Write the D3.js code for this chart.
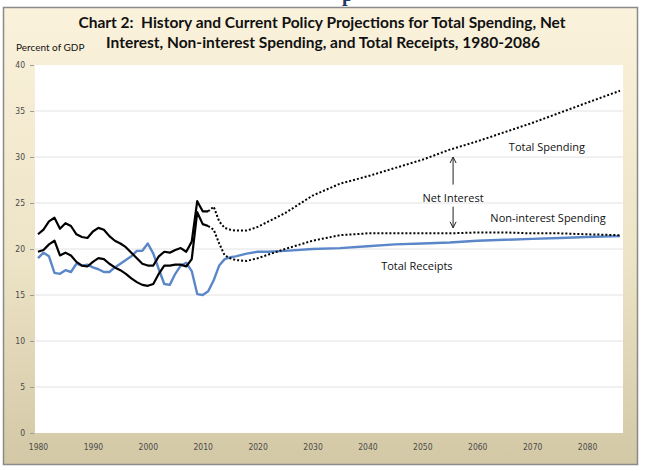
<!doctype html>
<html>
  <head>
    <meta charset="utf-8">
    <title>Chart 2</title>
    <style>
      body { margin: 0; background: #fff; }
      svg { display: block; }
      .tick-label { font-family: "DejaVu Sans Condensed", "DejaVu Sans", sans-serif; font-size: 8.5px; fill: #4a4a4a; }
      .note { font-family: "Open Sans", sans-serif; font-size: 11px; fill: #111; }
    </style>
  </head>
  <body>
  <script src="https://d3js.org/d3.v7.min.js" charset="utf-8"></script>
  <script>

    // history, 1980-2011
    var histYears = d3.range(1980, 2012);
    var spendingHist = [21.6, 22.1, 23.0, 23.4, 22.2, 22.8, 22.5, 21.6, 21.3, 21.2,
                        21.9, 22.3, 22.1, 21.4, 20.9, 20.6, 20.2, 19.6, 19.0, 18.4,
                        18.2, 18.2, 19.2, 19.7, 19.6, 19.9, 20.1, 19.7, 20.8, 25.2,
                        24.1, 24.1];
    var nonInterestHist = [19.7, 19.9, 20.5, 20.9, 19.3, 19.6, 19.3, 18.6, 18.2, 18.1,
                           18.6, 19.0, 18.9, 18.4, 18.0, 17.7, 17.3, 16.8, 16.4, 16.1,
                           16.0, 16.2, 17.3, 18.2, 18.2, 18.3, 18.3, 18.1, 18.9, 24.0,
                           22.7, 22.5];
    var receiptsHist = [19.0, 19.6, 19.2, 17.4, 17.3, 17.7, 17.5, 18.4, 18.2, 18.3,
                        18.0, 17.8, 17.5, 17.5, 18.0, 18.4, 18.8, 19.2, 19.8, 19.8,
                        20.6, 19.5, 17.8, 16.2, 16.1, 17.3, 18.2, 18.5, 17.6, 15.1,
                        15.0, 15.4];

    // current policy projections
    var projYears = [2011, 2012, 2013, 2014, 2015, 2016, 2018, 2020, 2022, 2025, 2030,
                     2035, 2040, 2045, 2050, 2055, 2060, 2065, 2070, 2075, 2080, 2086];
    var spendingProj = [24.1, 24.6, 23.0, 22.3, 22.1, 22.0, 22.0, 22.4, 23.0, 23.9, 25.8,
                        27.1, 27.9, 28.8, 29.7, 30.8, 31.7, 32.7, 33.7, 34.8, 35.9, 37.2];
    var nonInterestProj = [22.5, 22.1, 20.6, 19.3, 19.0, 18.8, 18.7, 19.0, 19.4, 20.0, 20.9,
                           21.5, 21.7, 21.7, 21.7, 21.7, 21.8, 21.8, 21.7, 21.7, 21.6, 21.5];
    var receiptsProj = [15.4, 16.6, 18.2, 18.9, 19.1, 19.2, 19.5, 19.7, 19.7, 19.8, 20.0,
                        20.1, 20.3, 20.5, 20.6, 20.7, 20.9, 21.0, 21.1, 21.2, 21.3, 21.4];

    var yTicks = [0, 5, 10, 15, 20, 25, 30, 35, 40];
    var xTicks = [1980, 1990, 2000, 2010, 2020, 2030, 2040, 2050, 2060, 2070, 2080];

    var width = 645, height = 471;
    var plot = { left: 35, right: 623, top: 65, bottom: 433 };

    var svg = d3.select("body").append("svg")
      .attr("width", width)
      .attr("height", height);

    var defs = svg.append("defs");
    var grad = defs.append("linearGradient")
      .attr("id", "bg").attr("x1", 0).attr("y1", 0).attr("x2", 0).attr("y2", 1);
    grad.append("stop").attr("offset", "0%").attr("stop-color", "#fbf2dc");
    grad.append("stop").attr("offset", "55%").attr("stop-color", "#ede3c6");
    grad.append("stop").attr("offset", "100%").attr("stop-color", "#d3c8a5");

    // outer frame
    svg.append("rect")
      .attr("x", 3.5).attr("y", 7.5)
      .attr("width", 634).attr("height", 457)
      .attr("fill", "url(#bg)")
      .attr("stroke", "#8a8a8a")
      .attr("stroke-width", 1.5);

    // cut-off glyph from the page above
    svg.append("text")
      .attr("x", 342).attr("y", 1)
      .attr("font-family", "Liberation Serif, serif")
      .attr("font-weight", "bold")
      .attr("font-size", 20)
      .attr("fill", "#1f3864")
      .text("p");

    svg.append("rect")
      .attr("x", plot.left).attr("y", plot.top)
      .attr("width", plot.right - plot.left)
      .attr("height", plot.bottom - plot.top)
      .attr("fill", "#fff");

    var x = d3.scaleLinear().domain([1980, 2086]).range([38, 620]);
    var y = d3.scaleLinear().domain([0, 40]).range([plot.bottom, plot.top]);

    // gridlines
    svg.append("g")
      .selectAll("line")
      .data(yTicks.filter(function(d) { return d > 0 && d < 40; }))
      .join("line")
      .attr("x1", plot.left).attr("x2", plot.right)
      .attr("y1", function(d) { return y(d); })
      .attr("y2", function(d) { return y(d); })
      .attr("stroke", "#e2e2e2")
      .attr("stroke-width", 1);

    // y axis
    var yAxis = svg.append("g")
      .attr("transform", "translate(" + (plot.left - 1) + ",0)")
      .call(d3.axisLeft(y).tickValues(yTicks).tickSize(4).tickPadding(5));
    yAxis.select(".domain").remove();
    yAxis.selectAll(".tick line").attr("stroke", "#9a9a9a");
    yAxis.selectAll(".tick text").attr("class", "tick-label").attr("font-family", null).attr("font-size", null);

    // x axis labels
    var xAxis = svg.append("g")
      .attr("transform", "translate(0," + plot.bottom + ")")
      .call(d3.axisBottom(x).tickValues(xTicks).tickFormat(d3.format("d")).tickSize(0).tickPadding(11));
    xAxis.select(".domain").remove();
    xAxis.selectAll(".tick text").attr("class", "tick-label").attr("font-family", null).attr("font-size", null);

    function series(years, vals) {
      return years.map(function(yr, i) { return [yr, vals[i]]; });
    }
    var line = d3.line()
      .x(function(d) { return x(d[0]); })
      .y(function(d) { return y(d[1]); });

    // receipts (solid blue all the way)
    svg.append("path")
      .datum(series(histYears, receiptsHist).concat(series(projYears.slice(1), receiptsProj.slice(1))))
      .attr("d", line)
      .attr("fill", "none")
      .attr("stroke", "#5b87c9")
      .attr("stroke-width", 2.4)
      .attr("stroke-linejoin", "round");

    // projections, dotted
    [spendingProj, nonInterestProj].forEach(function(vals) {
      svg.append("path")
        .datum(series(projYears, vals))
        .attr("d", line)
        .attr("fill", "none")
        .attr("stroke", "#000")
        .attr("stroke-width", 2)
        .attr("stroke-dasharray", "2,2");
    });

    // history, solid black
    [spendingHist, nonInterestHist].forEach(function(vals) {
      svg.append("path")
        .datum(series(histYears, vals))
        .attr("d", line)
        .attr("fill", "none")
        .attr("stroke", "#000")
        .attr("stroke-width", 2.2)
        .attr("stroke-linejoin", "round");
    });

    // net interest arrows
    var ax = x(2055.6);
    var upFrom = y(27.0), upTo = y(30.0), downFrom = y(24.6), downTo = y(22.3);
    var arrows = svg.append("g").attr("stroke", "#222").attr("stroke-width", 1).attr("fill", "none");
    arrows.append("path").attr("d", "M" + ax + "," + upFrom + "V" + upTo);
    arrows.append("path").attr("d", "M" + (ax - 3) + "," + (upTo + 6) + "L" + ax + "," + upTo + "L" + (ax + 3) + "," + (upTo + 6));
    arrows.append("path").attr("d", "M" + ax + "," + downFrom + "V" + downTo);
    arrows.append("path").attr("d", "M" + (ax - 3) + "," + (downTo - 6) + "L" + ax + "," + downTo + "L" + (ax + 3) + "," + (downTo - 6));

    // labels
    var notes = [
      { t: "Total Spending", yr: 2072.7, v: 31.1 },
      { t: "Net Interest", yr: 2055.6, v: 25.5 },
      { t: "Non-interest Spending", yr: 2072.9, v: 23.3 },
      { t: "Total Receipts", yr: 2049.0, v: 18.15 }
    ];
    svg.append("g").selectAll("text")
      .data(notes)
      .join("text")
      .attr("class", "note")
      .attr("x", function(d) { return x(d.yr); })
      .attr("y", function(d) { return y(d.v); })
      .attr("text-anchor", "middle")
      .attr("dy", "0.35em")
      .text(function(d) { return d.t; });

    // title
    var title = svg.append("text")
      .attr("font-family", "Lato, sans-serif")
      .attr("font-weight", "bold")
      .attr("font-size", 15.5)
      .attr("fill", "#111")
      .attr("text-anchor", "middle")
      .style("white-space", "pre");
    title.append("tspan").attr("x", 322).attr("y", 28)
      .text("Chart 2:  History and Current Policy Projections for Total Spending, Net");
    title.append("tspan").attr("x", 323).attr("y", 48)
      .text("Interest, Non-interest Spending, and Total Receipts, 1980-2086");

    svg.append("text")
      .attr("x", 16).attr("y", 51)
      .attr("font-family", "Lato, sans-serif")
      .attr("font-size", 10)
      .attr("fill", "#111")
      .text("Percent of GDP");

  </script>
  </body>
</html>
